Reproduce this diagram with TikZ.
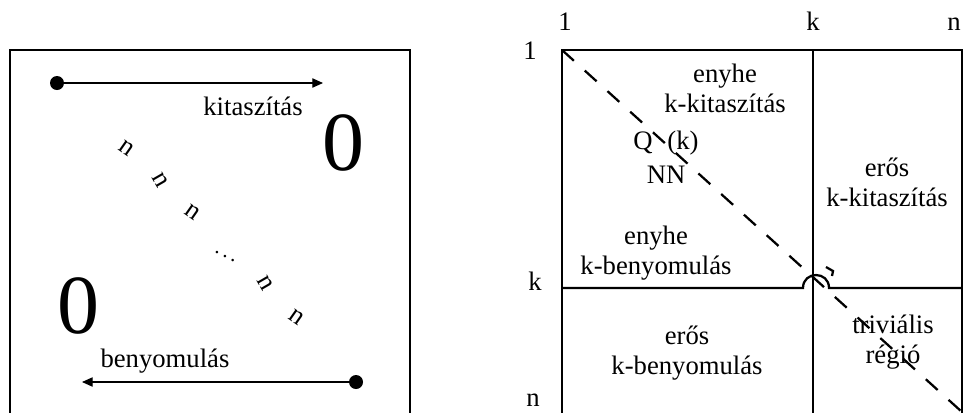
\documentclass[tikz,border=0pt]{standalone}
\usepackage{fontspec}
\setmainfont{Liberation Serif}
\usetikzlibrary{arrows.meta}
\begin{document}
\begin{tikzpicture}[x=0.75pt,y=-0.75pt,
  every node/.style={inner sep=0pt,font=\fontsize{20}{22.5}\selectfont},
  lbl/.style={align=center},
  big/.style={font=\fontsize{63}{64}\selectfont, anchor=base},
  rotn/.style={font=\fontsize{20}{22}\selectfont},
  frame/.style={line width=1.7pt},
  dotnode/.style={circle,fill=black,minimum size=10.5pt},
  arr/.style={line width=0.8pt,-{Triangle[length=8pt,width=7pt]}},
  diag/.style={line width=1.7pt,dash pattern=on 12pt off 11pt}]
\useasboundingbox (0,0) rectangle (963,412);
\clip (0,0) rectangle (963,412);
% ---------- left panel ----------
\draw[frame] (10,50) rectangle (410,418);
\node[dotnode] (d1) at (57,83) {};
\coordinate (e1) at (323,83);
\draw[arr] (d1.center) -- (e1);
\node[anchor=base] (kit) at (253,115) {kitaszítás};
\node[big] (z1) at (343,170) {0};
\node[big] (z2) at (78,333) {0};
\node[anchor=base] (beny) at (165,367) {benyomulás};
\node[dotnode] (d2) at (356,382) {};
\coordinate (e2) at (82,382);
\draw[arr] (d2.center) -- (e2);
\node[rotn,rotate=-35] (n1) at (127,148) {n};
\node[rotn,rotate=-60] (n2) at (160,180) {n};
\node[rotn,rotate=-35] (n3) at (193,212) {n};
\node[font=\fontsize{16}{16}\selectfont] (dd) at (225,252) {$\ddots$};
\node[rotn,rotate=-60] (n4) at (265,283) {n};
\node[rotn,rotate=-35] (n5) at (297,317) {n};
% ---------- right panel ----------
\coordinate (TL) at (562,50);
\coordinate (TR) at (962,50);
\coordinate (BL) at (562,418);
\coordinate (BR) at (962,418);
\coordinate (TK) at (813,50);
\coordinate (BK) at (813,418);
\coordinate (LK) at (562,288);
\coordinate (RK) at (962,288);
\coordinate (DE) at (962,412);
\draw[frame] (BL) -- (TL) -- (TR) -- (BR) -- cycle;
\draw[frame] (TK) -- (BK);
\draw[frame] (LK) -- (803,288) .. controls (803,270.7) and (829,270.7) .. (829,288) -- (RK);
\draw[diag] (TL) -- (DE);
\draw[line width=1.7pt] (826,267) -- (833,271) -- (832,276);
% axis labels
\node[anchor=base] (c1) at (565,30) {1};
\node[anchor=base] (ck) at (813,30) {k};
\node[anchor=base] (cn) at (954,30) {n};
\node[anchor=base] (r1) at (530,59) {1};
\node[anchor=base] (rk) at (535,290) {k};
\node[anchor=base] (rn) at (533,406) {n};
% region labels
\node[lbl] (ra) at (725,88) {enyhe\\k-kitaszítás};
\node[lbl] (rb) at (887,182) {erős\\k-kitaszítás};
\node[lbl] (rc) at (656,253) {enyhe\\k-benyomulás};
\node[lbl] (rd) at (687,353) {erős\\k-benyomulás};
\node[lbl] (re) at (893,342) {triviális\\régió};
\node (q) at (643,143) {Q};
\node (qk) at (683,143) {(k)};
\node (nn) at (666,175) {NN};
\end{tikzpicture}
\end{document}
